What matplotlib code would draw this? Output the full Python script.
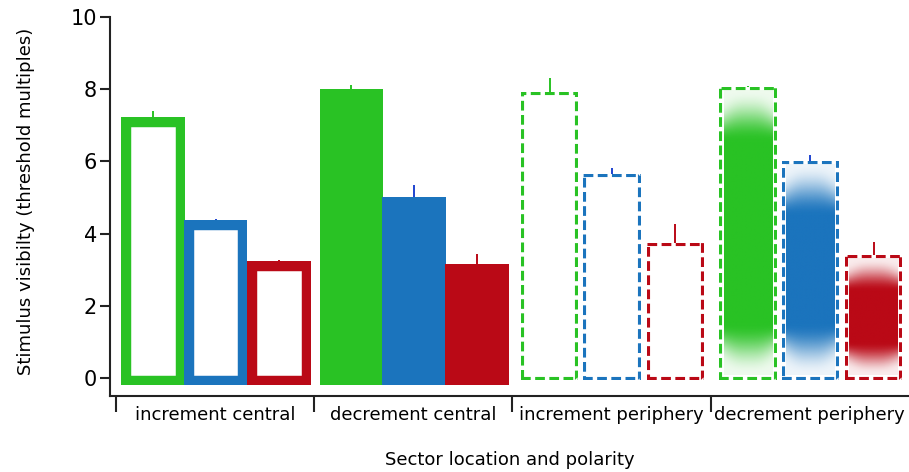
"""
Stimulus visibility per sector/polarity: four groups of three bars
(green / blue / red), each group drawn in its own bar style.
"""

import numpy as np
import matplotlib
matplotlib.use("Agg")
import matplotlib.pyplot as plt
from matplotlib.patches import Rectangle
from matplotlib.colors import to_rgb

CATEGORIES = ["increment central", "decrement central",
              "increment periphery", "decrement periphery"]

# bar heights (green, blue, red) per category
INC_CENTRAL = [7.23, 4.38, 3.25]
DEC_CENTRAL = [7.99, 5.00, 3.15]
INC_PERIPH = [7.92, 5.64, 3.75]
DEC_PERIPH = [8.06, 6.01, 3.41]

# upper end of each error bar
INC_CENTRAL_ERR = [7.40, 4.40, 3.27]
DEC_CENTRAL_ERR = [8.10, 5.33, 3.43]
INC_PERIPH_ERR = [8.29, 5.80, 4.26]
DEC_PERIPH_ERR = [8.08, 6.17, 3.78]

Y_TICKS = [0, 2, 4, 6, 8, 10]

BAR_COLORS = ["#29c224", "#1b74bd", "#ba0916"]
ERR_COLORS = ["#29c224", "#1f44d0", "#ba0916"]
STYLES = ["thick", "filled", "dashed", "gradient"]

# layout
BAR_OFFSETS = [0.187, 0.503, 0.822]      # bar centres inside a category
BAR_WIDTHS = [0.32, 0.32, 0.29, 0.29]    # per category
BASELINES = [-0.185, -0.185, -0.047, -0.047]
PX_X = 198.3    # pixels per x unit
PX_Y = 36.18    # pixels per y unit

FONT = "DejaVu Sans"
plt.rcParams["font.family"] = FONT


def inner_stroke(ax, x0, y0, w, h, color, lw, dashed=False):
    # draw only the inner half of a doubled stroke -> frame sits inside the bar
    rect = Rectangle((x0, y0), w, h, fill=False, edgecolor=color,
                     linewidth=2 * lw, joinstyle="miter", capstyle="butt",
                     zorder=3)
    if dashed:
        rect.set_linestyle((0, (7.0 / (2 * lw), 3.2 / (2 * lw))))
    ax.add_patch(rect)
    rect.set_clip_path(rect)


def gradient_fill(ax, x0, y0, w, h, color):
    inset_x = 4.5 / PX_X
    inset_y = 4.5 / PX_Y
    xa, xb = x0 + inset_x, x0 + w - inset_x
    ya, yb = y0 + inset_y, y0 + h - inset_y
    ny, nx = 200, 60
    yy = np.linspace(ya, yb, ny)[:, None]
    xx = np.linspace(-1, 1, nx)[None, :]
    fade = min(1.4, 0.28 * (yb - ya))
    t = np.clip(np.minimum(yy - ya, yb - yy) / fade, 0, 1)
    sm = t * t * (3 - 2 * t)
    alpha = sm ** (1 + 0.8 * np.abs(xx) ** 3)
    alpha = 0.08 + 0.92 * alpha
    rgba = np.zeros((ny, nx, 4))
    rgba[..., :3] = to_rgb(color)
    rgba[..., 3] = alpha
    ax.imshow(rgba, extent=[xa, xb, ya, yb], origin="lower",
              aspect="auto", interpolation="bilinear", zorder=2)


def main():
    heights = [INC_CENTRAL, DEC_CENTRAL, INC_PERIPH, DEC_PERIPH]
    err_tops = [INC_CENTRAL_ERR, DEC_CENTRAL_ERR, INC_PERIPH_ERR, DEC_PERIPH_ERR]

    fig = plt.figure(figsize=(9.09, 4.72), dpi=100)
    ax = fig.add_axes([110 / 909, 1 - 396 / 472, 799 / 909, (396 - 16.5) / 472])

    for i, style in enumerate(STYLES):
        w = BAR_WIDTHS[i]
        base = BASELINES[i]
        for j in range(3):
            xc = i + BAR_OFFSETS[j]
            x0 = xc - w / 2
            top = heights[i][j]
            h = top - base
            col = BAR_COLORS[j]
            if style == "thick":
                inner_stroke(ax, x0, base, w, h, col, 7.0)
            elif style == "filled":
                ax.add_patch(Rectangle((x0, base), w, h, facecolor=col,
                                       edgecolor="none", zorder=2))
            elif style == "dashed":
                inner_stroke(ax, x0, base, w, h, col, 2.2, dashed=True)
            else:
                gradient_fill(ax, x0, base, w, h, col)
                inner_stroke(ax, x0, base, w, h, col, 2.2, dashed=True)
            ax.vlines(xc, top, err_tops[i][j], color=ERR_COLORS[j],
                      linewidth=1.4, zorder=4)

    ax.set_xlim(-0.03, 4.0)
    ax.set_ylim(-0.49, 10)

    for side in ["top", "right"]:
        ax.spines[side].set_visible(False)
    for side in ["left", "bottom"]:
        ax.spines[side].set_linewidth(1.5)
        ax.spines[side].set_color("#222222")

    ax.set_yticks(Y_TICKS)
    ax.set_yticklabels([str(v) for v in Y_TICKS], fontsize=15)
    ax.tick_params(axis="y", direction="out", length=7.5, width=1.5,
                   color="#222222", pad=2)

    ax.set_xticks(range(len(CATEGORIES)))
    ax.set_xticklabels([])
    ax.set_xticks([i + 0.5 for i in range(len(CATEGORIES))], minor=True)
    ax.set_xticklabels(CATEGORIES, minor=True, fontsize=13)
    ax.tick_params(axis="x", which="major", direction="out", length=11.5,
                   width=1.5, color="#222222")
    ax.tick_params(axis="x", which="minor", length=0, pad=7)

    ax.set_ylabel("Stimulus visibilty (threshold multiples)", fontsize=13)
    ax.yaxis.set_label_coords(-0.094, 0.512)
    ax.set_xlabel("Sector location and polarity", fontsize=13)
    ax.xaxis.set_label_coords(0.5, -0.145)

    fig.savefig("out.png", dpi=100)


if __name__ == "__main__":
    main()
